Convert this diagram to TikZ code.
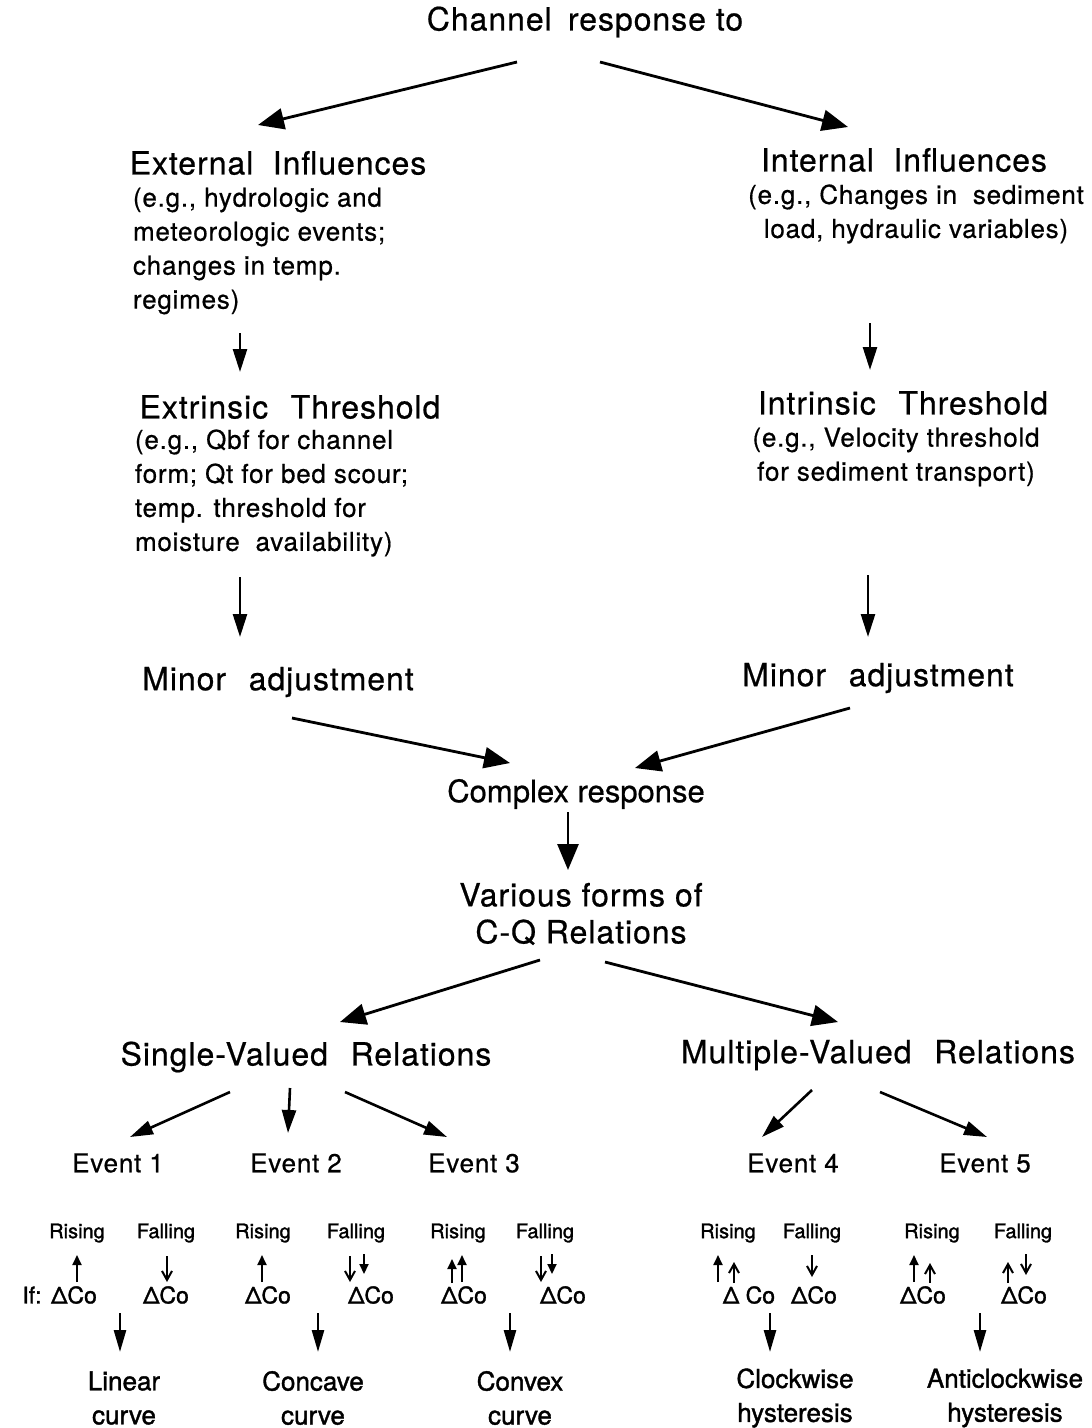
\documentclass[tikz,border=0pt]{standalone}
\usepackage{fontspec}
\setmainfont{TeX Gyre Heros}[FakeBold=0.6]
\newfontfamily\heavyfont{TeX Gyre Heros}[FakeBold=1.4]
\usetikzlibrary{arrows.meta,calc}
\begin{document}
\begin{tikzpicture}[x=1pt,y=-1pt,
  every node/.style={inner sep=0pt,outer sep=0pt},
  ttl/.style={font=\fontsize{32}{38}\selectfont\addfontfeatures{LetterSpace=3}},
  sub/.style={font=\fontsize{26}{34}\selectfont\addfontfeatures{LetterSpace=3}},
  ev/.style={font=\fontsize{26}{30}\selectfont\addfontfeatures{LetterSpace=3}},
  rf/.style={font=\heavyfont\fontsize{20}{24}\selectfont},
  dco/.style={font=\heavyfont\fontsize{23}{28}\selectfont},
  res/.style={font=\heavyfont\fontsize{26}{34}\selectfont,align=center},
  arr/.style={line width=2.8pt,-{Triangle[length=26pt,width=21pt]}},
  darr/.style={line width=2.6pt,-{Triangle[length=23pt,width=14pt]}},
  barr/.style={line width=2.6pt,-{Triangle[length=22pt,width=12pt]}},
  sa/.style={line width=2pt,-{Triangle[length=10pt,width=9pt]}},
  sab/.style={line width=2pt,-{Straight Barb[length=9pt,width=10pt,line width=2pt]}}]
\useasboundingbox (0,0) rectangle (1092,1428);

% upper part
\node[ttl] (ch) at (585,22) {Channel\hspace{0.2em} response to};
\node[ttl] (ext) at (278,163) {External\hspace{0.3em} Influences};
\node[sub,align=left,anchor=west] (extsub) at (133,251)
  {(e.g., hydrologic and\\meteorologic events;\\changes in temp.\\regimes)};
\node[ttl] (int) at (904,160) {Internal\hspace{0.3em} Influences};
\node[sub,align=center] (intsub) at (916,214)
  {(e.g., Changes in\hspace{0.3em} sediment\\load, hydraulic variables)};
\node[ttl] (extthr) at (290,407) {Extrinsic\hspace{0.4em} Threshold};
\node[sub,align=left,anchor=west] (extthrsub) at (135,493)
  {(e.g., Qbf for channel\\form; Qt for bed scour;\\temp. threshold for\\moisture\hspace{0.3em} availability)};
\node[ttl] (intthr) at (903,403) {Intrinsic\hspace{0.4em} Threshold};
\node[sub,align=center] (intthrsub) at (896,457)
  {(e.g., Velocity threshold\\for sediment transport)};
\node[ttl] (minL) at (278,682) {Minor\hspace{0.4em} adjustment};
\node[ttl] (minR) at (878,678) {Minor\hspace{0.4em} adjustment};
\node[font=\fontsize{31}{37}\selectfont] (cplx) at (576,794) {Complex response};
\node[ttl,align=center,font=\fontsize{32}{37}\selectfont\addfontfeatures{LetterSpace=3}] (cq) at (581,914) {Various forms of\\C-Q Relations};
\node[ttl] (sv) at (306,1057) {Single-Valued\hspace{0.4em} Relations};
\node[ttl] (mv) at (878,1055) {Multiple-Valued\hspace{0.4em} Relations};

% events
\node[ev] (e1) at (118,1163) {Event 1};
\node[ev] (e2) at (296,1163) {Event 2};
\node[ev] (e3) at (474,1163) {Event 3};
\node[ev] (e4) at (793,1163) {Event 4};
\node[ev] (e5) at (985,1163) {Event 5};

\foreach \n/\x in {1/77,2/263,3/458,4/728,5/932}
  \node[rf] (r\n) at (\x,1233) {Rising};
\foreach \n/\x in {1/166,2/356,3/545,4/812,5/1023}
  \node[rf] (f\n) at (\x,1233) {Falling};

\node[dco] (if) at (32,1295) {If:};
\foreach \n/\x in {1/74,2/268,3/464,5/923}
  \node[dco] (da\n) at (\x,1295) {ΔCo};
\node[dco] (da4) at (749,1295) {Δ Co};
\foreach \n/\x in {1/166,2/371,3/563,4/814,5/1024}
  \node[dco] (db\n) at (\x,1295) {ΔCo};

\node[res] (lab1) at (124,1398) {Linear\\curve};
\node[res] (lab2) at (313,1398) {Concave\\curve};
\node[res] (lab3) at (520,1398) {Convex\\curve};
\node[res] (lab4) at (795,1398) {Clockwise\\hysteresis};
\node[res] (lab5) at (1005,1398) {Anticlockwise\\hysteresis};

% connectors
\draw[arr] ($(ch)+(-68,40)$) -- ($(ext)+(-20,-38)$);
\draw[arr] ($(ch)+(15,40)$) -- ($(int)+(-56,-33)$);
\draw[darr] ($(extsub.west)+(107,82)$) -- ($(extthr)+(-50,-35)$);
\draw[darr] ($(intsub)+(-46,109)$) -- ($(intthr)+(-33,-33)$);
\draw[darr] ($(extthrsub.west)+(105,84)$) -- ($(minL)+(-38,-45)$);
\draw[darr] ($(intthrsub)+(-28,118)$) -- ($(minR)+(-10,-41)$);
\draw[arr] ($(minL)+(14,36)$) -- ($(cplx)+(-66,-31)$);
\draw[arr] ($(minR)+(-28,30)$) -- ($(cplx)+(59,-26)$);
\draw[arr] ($(cplx)+(-8,18)$) -- ($(cq)+(-13,-44)$);
\draw[arr] ($(cq)+(-41,46)$) -- ($(sv)+(34,-35)$);
\draw[arr] ($(cq)+(24,48)$) -- ($(mv)+(-40,-33)$);
\draw[darr] ($(sv)+(-76,35)$) -- ($(e1)+(12,-26)$);
\draw[darr] ($(sv)+(-16,31)$) -- ($(e2)+(-8,-30)$);
\draw[darr] ($(sv)+(39,35)$) -- ($(e3)+(-27,-26)$);
\draw[darr] ($(mv)+(-66,35)$) -- ($(e4)+(-31,-26)$);
\draw[darr] ($(mv)+(2,37)$) -- ($(e5)+(2,-26)$);
\draw[barr] ($(lab1)+(-4,-85)$) -- ($(lab1)+(-4,-46)$);
\draw[barr] ($(lab2)+(5,-85)$) -- ($(lab2)+(5,-46)$);
\draw[barr] ($(lab3)+(-10,-85)$) -- ($(lab3)+(-10,-46)$);
\draw[barr] ($(lab4)+(-25,-85)$) -- ($(lab4)+(-25,-46)$);
\draw[barr] ($(lab5)+(-25,-85)$) -- ($(lab5)+(-25,-46)$);

% rising / falling marks
\draw[sa] (77,1282) -- (77,1255);
\draw[sab] (167,1256) -- (167,1282);
\draw[sa] (262,1282) -- (262,1255);
\draw[sab] (350,1256) -- (350,1282);
\draw[sa] (364,1254) -- (364,1274);
\draw[sa] (452,1283) -- (452,1259);
\draw[sa] (462,1282) -- (462,1255);
\draw[sab] (541,1256) -- (541,1282);
\draw[sa] (552,1254) -- (552,1274);
\draw[sa] (718,1282) -- (718,1255);
\draw[sab] (734,1283) -- (734,1262);
\draw[sab] (812,1255) -- (812,1277);
\draw[sa] (914,1282) -- (914,1255);
\draw[sab] (930,1283) -- (930,1263);
\draw[sab] (1008,1283) -- (1008,1262);
\draw[sab] (1026,1254) -- (1026,1275);
\end{tikzpicture}
\end{document}
